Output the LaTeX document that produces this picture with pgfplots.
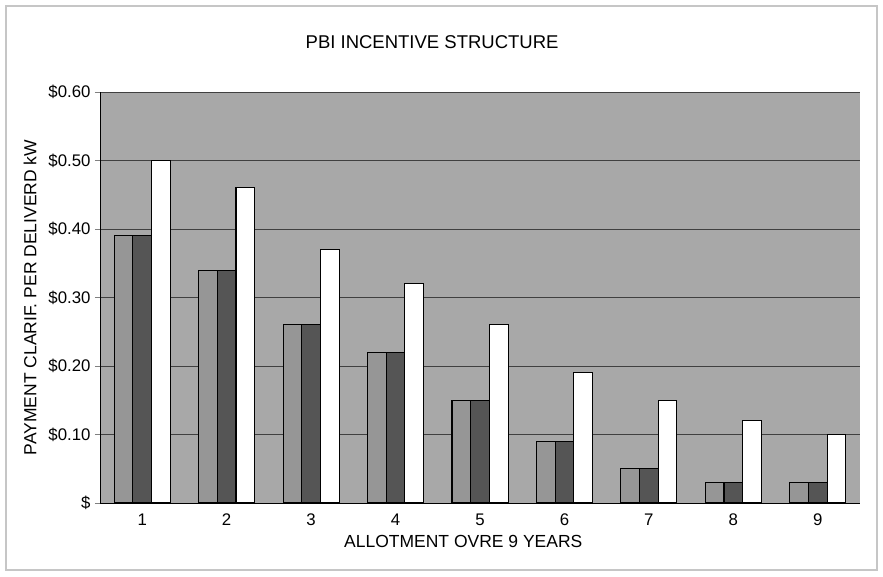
\documentclass[border=0pt]{standalone}
\usepackage{pgfplots}
\pgfplotsset{compat=1.18}
\usepackage{fontspec}
\setmainfont{Liberation Sans}
\definecolor{plotbg}{RGB}{168,168,168}
\definecolor{barlight}{RGB}{150,150,150}
\definecolor{bardark}{RGB}{85,85,85}
\begin{document}
\begin{tikzpicture}[x=1pt,y=1pt]
\path (-100pt,-73pt) rectangle (783pt,503pt);
\draw[gray!45, line width=1.5pt] (-94pt,-67pt) rectangle (777pt,497pt);
\begin{axis}[
  at={(0pt,0pt)}, anchor=south west,
  scale only axis, width=760pt, height=411pt,
  xmin=0.5, xmax=9.5, ymin=0, ymax=0.6,
  axis background/.style={fill=plotbg},
  axis x line*=bottom, axis y line*=left,
  axis line style={black, line width=0.8pt},
  ybar, bar width=18.7pt,
  xtick={1,...,9}, xticklabels={1,2,3,4,5,6,7,8,9},
  major x tick style={draw=none},
  extra x ticks={1.5,2.5,...,8.5}, extra x tick labels={},
  extra x tick style={major tick length=4pt, tick align=outside, tick style={black,line width=0.6pt}},
  ytick={0,0.1,...,0.6},
  yticklabels={\$,\$0.10,\$0.20,\$0.30,\$0.40,\$0.50,\$0.60},
  ytick align=outside, major tick length=5pt,
  ymajorgrids, grid style={black!75, line width=0.6pt},
  tick label style={font=\fontsize{16.8}{19}\selectfont},
  xticklabel style={yshift=-2pt},
  yticklabel style={xshift=-1pt},
  xlabel={ALLOTMENT OVRE 9 YEARS},
  ylabel={PAYMENT CLARIF. PER DELIVERD kW},
  label style={font=\fontsize{17.5}{20}\selectfont},
  xlabel style={at={(rel axis cs:0.478,0)}, anchor=center, yshift=-38pt},
  ylabel style={at={(rel axis cs:0,0.5)}, anchor=center, rotate=0, yshift=70pt},
  title={PBI INCENTIVE STRUCTURE},
  title style={font=\fontsize{18.5}{20}\selectfont, at={(rel axis cs:0.437,1)}, anchor=center, yshift=44pt},
  axis on top=false,
  every axis plot/.append style={draw=black, line width=1.1pt},
]
\addplot[fill=barlight, bar shift=-18.7pt] coordinates {(1,0.39) (2,0.34) (3,0.26) (4,0.22) (5,0.15) (6,0.09) (7,0.05) (8,0.03) (9,0.03)};
\addplot[fill=bardark, bar shift=0pt] coordinates {(1,0.39) (2,0.34) (3,0.26) (4,0.22) (5,0.15) (6,0.09) (7,0.05) (8,0.03) (9,0.03)};
\addplot[fill=white, bar shift=18.7pt] coordinates {(1,0.50) (2,0.46) (3,0.37) (4,0.32) (5,0.26) (6,0.19) (7,0.15) (8,0.12) (9,0.10)};
\end{axis}
\end{tikzpicture}
\end{document}
